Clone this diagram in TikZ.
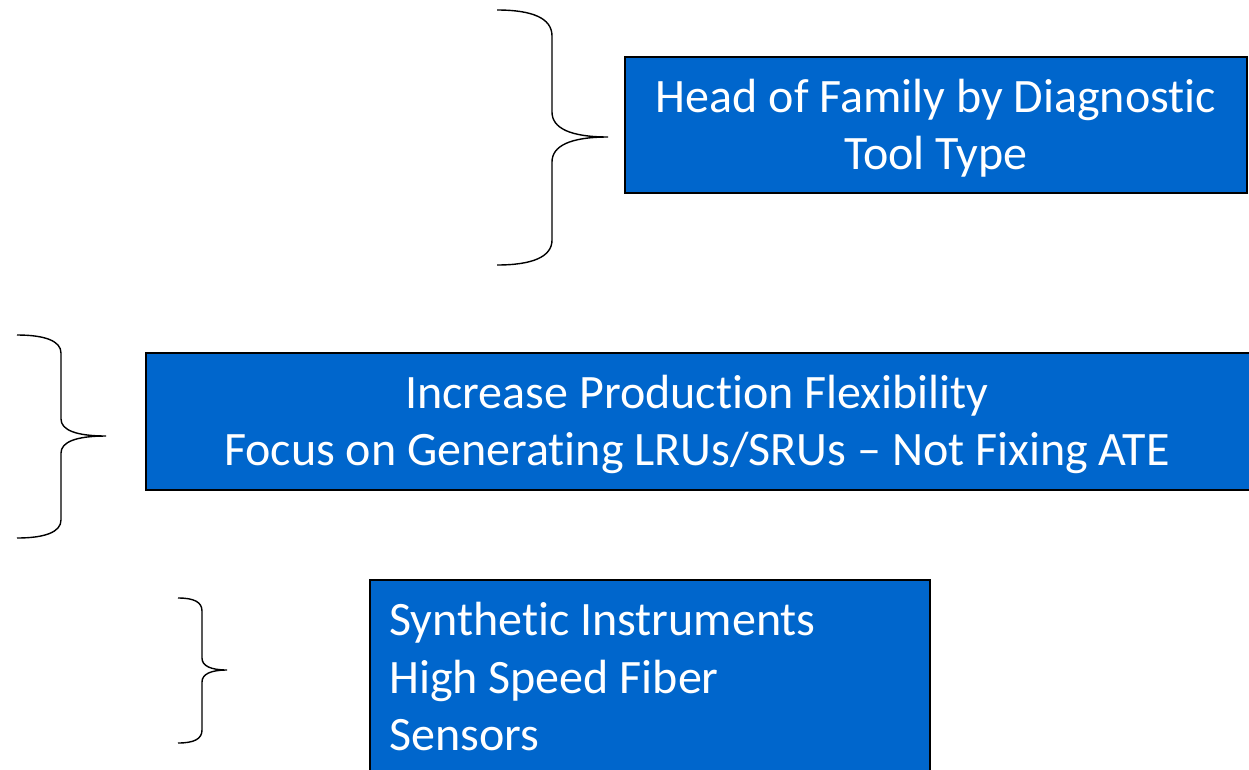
\documentclass[tikz,border=0pt]{standalone}
\usepackage{fontspec}
\setmainfont{Carlito}[Ligatures={TeX,NoCommon}]
\definecolor{slideblue}{HTML}{0066CC}
\begin{document}
\begin{tikzpicture}[x=1pt,y=-1pt]
\tikzstyle{panel}=[rectangle,draw=black,line width=1.5pt,fill=slideblue,inner sep=0pt]
\tikzstyle{words}=[text=white,font=\fontsize{48}{57.5}\selectfont,inner sep=0pt]
\tikzstyle{curly}=[draw=black,line width=1.4pt]

\useasboundingbox (0,0) rectangle (1249,769);
\clip (0,0) rectangle (1249,769);

\node[panel,minimum width=622pt,minimum height=136pt] (family) at (936,125) {};
\node[words,align=center] (familytext) at ([yshift=-3pt]family.center) {Head of Family by Diagnostic\\Tool Type};

\node[panel,minimum width=1106pt,minimum height=137pt] (flex) at (699,421.5) {};
\node[words,align=center] (flextext) at (697,424.5) {Increase Production Flexibility\\Focus on Generating LRUs/SRUs -- Not Fixing ATE};

\node[panel,anchor=north west,minimum width=560pt,minimum height=230pt] (tech) at (369,579) {};
\node[words,align=left,anchor=north west] (techtext) at (389,602) {Synthetic Instruments\\High Speed Fiber\\Sensors};

% braces
\draw[curly] (497,10) .. controls (532,10) and (552,18) .. (552,36) -- (552,112) .. controls (552,128) and (570,137) .. (608,137) .. controls (570,137) and (552,146) .. (552,162) -- (552,240) .. controls (552,257) and (532,265) .. (497,265);
\draw[curly] (17,335) .. controls (45,335) and (61,341) .. (61,353) -- (61,419) .. controls (61,430) and (76,436) .. (106,436) .. controls (76,436) and (61,442) .. (61,453) -- (61,520) .. controls (61,532) and (45,538) .. (17,538);
\draw[curly] (178,598) .. controls (194,598) and (202,602) .. (202,611) -- (202,658) .. controls (202,666) and (211,670) .. (227,670) .. controls (211,670) and (202,674) .. (202,682) -- (202,730) .. controls (202,739) and (194,743) .. (178,743);
\end{tikzpicture}
\end{document}
